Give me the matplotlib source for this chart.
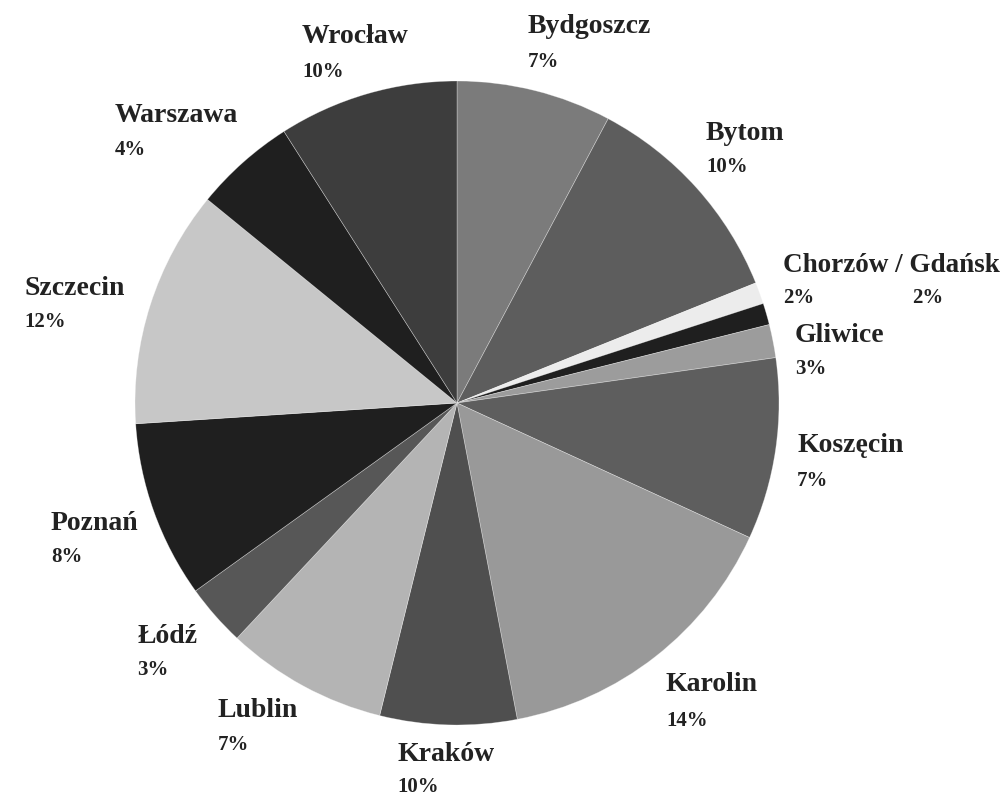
import matplotlib
matplotlib.use("Agg")
import matplotlib.pyplot as plt

# ─────────────────────────── DATA ───────────────────────────
CITIES = ["Bydgoszcz", "Bytom", "Chorzów", "Gdańsk", "Gliwice", "Koszęcin",
          "Karolin", "Kraków", "Lublin", "Łódź", "Poznań", "Szczecin",
          "Warszawa", "Wrocław"]
# slice sizes (degrees of arc)
SHARES = [28.0, 40.1, 3.9, 3.9, 6.0, 32.8, 54.5, 24.7, 29.2, 11.2,
          32.0, 42.9, 18.3, 32.5]
# the percentages printed next to each slice
PCT_TEXT = ["7%", "10%", "2%", "2%", "3%", "7%", "14%", "10%", "7%", "3%",
            "8%", "12%", "4%", "10%"]
COLOURS = ["#7b7b7b", "#5d5d5d", "#ececec", "#1f1f1f", "#9c9c9c", "#5e5e5e",
           "#999999", "#4f4f4f", "#b4b4b4", "#575757", "#1f1f1f", "#c7c7c7",
           "#1f1f1f", "#3d3d3d"]

# ─────────────────────────── LAYOUT ─────────────────────────
W, H = 1008, 796
CX, CY, R = 457, 403, 322          # pie centre / radius in pixels
TEXT_COL = "#222222"
FONT = "Liberation Serif"
NAME_SIZE, PCT_SIZE = 20, 15

# label anchors (x, name baseline, pct baseline) in pixels from top-left
LABEL_POS = {
    "Bydgoszcz": (528, 33, 67),
    "Bytom":     (706, 140, 172),
    "Gliwice":   (795, 342, 374),
    "Koszęcin":  (797, 452, 486),
    "Karolin":   (666, 691, 726),
    "Kraków":    (397, 761, 792),
    "Lublin":    (218, 717, 750),
    "Łódź":      (137, 643, 675),
    "Poznań":    (51, 530, 562),
    "Szczecin":  (24, 295, 327),
    "Warszawa":  (115, 122, 155),
    "Wrocław":   (302, 43, 77),
}

fig = plt.figure(figsize=(W / 100, H / 100), dpi=100)
fig.patch.set_facecolor("white")
ax = fig.add_axes([(CX - R) / W, (H - CY - R) / H, 2 * R / W, 2 * R / H])
ax.pie(SHARES, colors=COLOURS, startangle=90, counterclock=False, radius=1,
       wedgeprops=dict(edgecolor=(1, 1, 1, 0.4), linewidth=0.5))
ax.set_xlim(-1, 1)
ax.set_ylim(-1, 1)
ax.set_aspect("equal")
ax.axis("off")


def put(x, y, s, size):
    fig.text(x / W, 1 - y / H, s, ha="left", va="baseline",
             fontsize=size, fontweight="bold", family=FONT, color=TEXT_COL)


pct = dict(zip(CITIES, PCT_TEXT))
for city, (x, yn, yp) in LABEL_POS.items():
    put(x, yn, city, NAME_SIZE)
    put(x, yp, pct[city], PCT_SIZE)

# Chorzów and Gdańsk share one label line
put(783, 272, "Chorzów / Gdańsk", 19.5)
put(783, 303, pct["Chorzów"], PCT_SIZE)
put(912, 303, pct["Gdańsk"], PCT_SIZE)

fig.savefig("out.png", dpi=100, facecolor="white")
